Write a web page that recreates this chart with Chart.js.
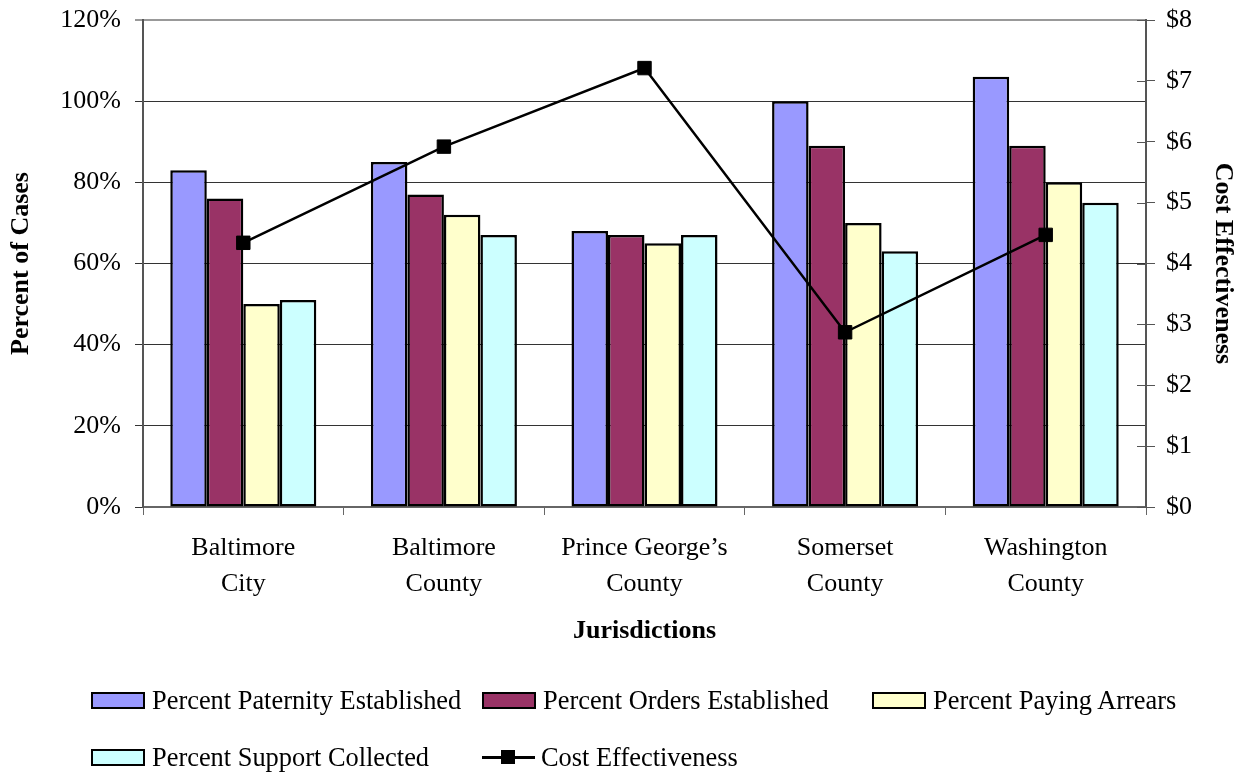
<!DOCTYPE html>
<html>
<head>
<meta charset="utf-8">
<title>Child Support Performance by Jurisdiction</title>
<script src="https://cdn.jsdelivr.net/npm/chart.js@4.4.1/dist/chart.umd.min.js"></script>
<style>
  html, body { margin: 0; padding: 0; background: #ffffff; }
  #wrap { position: relative; width: 1243px; height: 774px; overflow: hidden; }
  #chart { position: absolute; left: 0; top: 0; }
  .leg-item { position: absolute; height: 30px; }
  .leg-box { position: absolute; width: 54px; height: 17px; box-sizing: border-box; border: 2px solid #000; }
  .leg-text { position: absolute; left: 61px; top: 0; white-space: nowrap;
              font-family: 'Liberation Serif', 'Times New Roman', serif; font-size: 26.4px; line-height: 30px; color: #000; }
  .leg-line { position: absolute; left: 0; width: 53px; height: 2.5px; background: #000; }
  .leg-mark { position: absolute; width: 14px; height: 14px; background: #000; }
</style>
</head>
<body>
<div id="wrap">
  <canvas id="chart" width="1243" height="774"></canvas>
  <div id="legend"></div>
</div>
<script>
// Jurisdictions on the category axis (two-line labels)
const categories = [
  ["Baltimore", "City"],
  ["Baltimore", "County"],
  ["Prince George\u2019s", "County"],
  ["Somerset", "County"],
  ["Washington", "County"]
];

// Percent-of-cases series (left axis)
const paternityPct = [83, 85, 68, 100, 106];
const ordersPct    = [76, 77, 67, 89, 89];
const arrearsPct   = [50, 72, 65, 70, 80];
const supportPct   = [51, 67, 67, 63, 75];

// Dollars collected per dollar spent (right axis)
const costEffectiveness = [4.34, 5.92, 7.21, 2.87, 4.47];

// Axis ranges
const percentRange = { min: 0, max: 120, step: 20 };
const dollarRange  = { min: 0, max: 8, step: 1 };

const seriesNames = [
  "Percent Paternity Established",
  "Percent Orders Established",
  "Percent Paying Arrears",
  "Percent Support Collected",
  "Cost Effectiveness"
];
const barColors = ["#9999FF", "#993366", "#FFFFCC", "#CCFFFF"];

const serif = "'Liberation Serif', 'Times New Roman', serif";

function barSet(label, data, color) {
  return {
    type: 'bar', label, data, yAxisID: 'y', order: 1,
    backgroundColor: color, borderColor: '#000', borderWidth: 2.5, borderSkipped: false,
    categoryPercentage: 0.728, barPercentage: 1.0
  };
}

// Short tick marks on the inner side of the right axis
const innerTicks = {
  id: 'innerTicks',
  afterDraw(chart) {
    const s = chart.scales.y1;
    const ctx = chart.ctx;
    ctx.save();
    ctx.strokeStyle = '#555';
    ctx.lineWidth = 1;
    s.ticks.forEach(t => {
      const y = Math.round(s.getPixelForValue(t.value)) + 0.5;
      ctx.beginPath();
      ctx.moveTo(s.left - 9, y);
      ctx.lineTo(s.left, y);
      ctx.stroke();
    });
    ctx.restore();
  }
};

// Fixed widths for the value axes, without extra end padding for their labels
function fixVertical(width) {
  return scale => {
    scale.width = width;
    scale.paddingTop = 0;
    scale.paddingBottom = 0;
  };
}

const chart = new Chart(document.getElementById('chart'), {
  data: {
    labels: categories,
    datasets: [
      barSet(seriesNames[0], paternityPct, barColors[0]),
      barSet(seriesNames[1], ordersPct, barColors[1]),
      barSet(seriesNames[2], arrearsPct, barColors[2]),
      barSet(seriesNames[3], supportPct, barColors[3]),
      {
        type: 'line', label: seriesNames[4], data: costEffectiveness, yAxisID: 'y1', order: 0,
        borderColor: '#000', borderWidth: 2.5, backgroundColor: '#000',
        pointStyle: 'rect', pointRadius: 9.5, pointBorderWidth: 1, pointBackgroundColor: '#000',
        pointBorderColor: '#000', tension: 0, fill: false
      }
    ]
  },
  options: {
    responsive: false,
    animation: false,
    devicePixelRatio: 1,
    layout: { padding: { left: 0, right: 0, top: 20, bottom: 127 } },
    plugins: { legend: { display: false }, tooltip: { enabled: false } },
    scales: {
      x: {
        offset: true,
        grid: { offset: true, drawOnChartArea: false, drawTicks: true, tickLength: 8, color: '#666', lineWidth: 1 },
        border: { color: '#666', width: 2 },
        ticks: { color: '#000', padding: 15, maxRotation: 0, autoSkip: false,
                 font: { family: serif, size: 26, lineHeight: 1.385 } },
        title: { display: true, text: 'Jurisdictions', color: '#000', padding: 0,
                 font: { family: serif, size: 26, weight: 'bold' } },
        afterFit(scale) { scale.height = 140; }
      },
      y: {
        position: 'left',
        min: percentRange.min, max: percentRange.max,
        grid: {
          drawTicks: true, tickLength: 8,
          color: ctx => ctx.tick && ctx.tick.value === percentRange.max ? '#999' : '#333',
          lineWidth: ctx => ctx.tick && ctx.tick.value === percentRange.max ? 2 : 1
        },
        border: { color: '#555', width: 2 },
        ticks: { stepSize: percentRange.step, color: '#000', padding: 14,
                 font: { family: serif, size: 26, lineHeight: 0.8 }, callback: v => v + '%' },
        title: { display: true, text: 'Percent of Cases', color: '#000', padding: 6,
                 font: { family: serif, size: 26, weight: 'bold' } },
        afterFit: fixVertical(143)
      },
      y1: {
        position: 'right',
        min: dollarRange.min, max: dollarRange.max,
        grid: { drawOnChartArea: false, drawTicks: true, tickLength: 9, color: '#555', lineWidth: 1 },
        border: { color: '#555', width: 2 },
        ticks: { stepSize: dollarRange.step, color: '#000', padding: 11,
                 font: { family: serif, size: 26, lineHeight: 0.8 }, callback: v => '$' + v },
        title: { display: true, text: 'Cost Effectiveness', color: '#000', padding: 5,
                 font: { family: serif, size: 26, weight: 'bold' } },
        afterFit: fixVertical(97)
      }
    }
  },
  plugins: [innerTicks]
});

// HTML legend built from the chart's datasets: three columns, two rows
(function buildLegend() {
  const host = document.getElementById('legend');
  const colX = [91, 482, 872];
  const rowTop = [685, 742];
  chart.data.datasets.forEach((ds, i) => {
    const item = document.createElement('div');
    item.className = 'leg-item';
    item.style.left = colX[i % 3] + 'px';
    item.style.top = rowTop[Math.floor(i / 3)] + 'px';
    if (ds.type === 'bar') {
      const box = document.createElement('div');
      box.className = 'leg-box';
      box.style.background = ds.backgroundColor;
      box.style.top = '7px';
      item.appendChild(box);
    } else {
      const line = document.createElement('div');
      line.className = 'leg-line';
      line.style.top = '14px';
      const mark = document.createElement('div');
      mark.className = 'leg-mark';
      mark.style.left = '19px';
      mark.style.top = '8px';
      item.appendChild(line);
      item.appendChild(mark);
    }
    const txt = document.createElement('span');
    txt.className = 'leg-text';
    txt.textContent = ds.label;
    if (ds.type !== 'bar') txt.style.left = '59px';
    item.appendChild(txt);
    host.appendChild(item);
  });
})();
</script>
</body>
</html>
